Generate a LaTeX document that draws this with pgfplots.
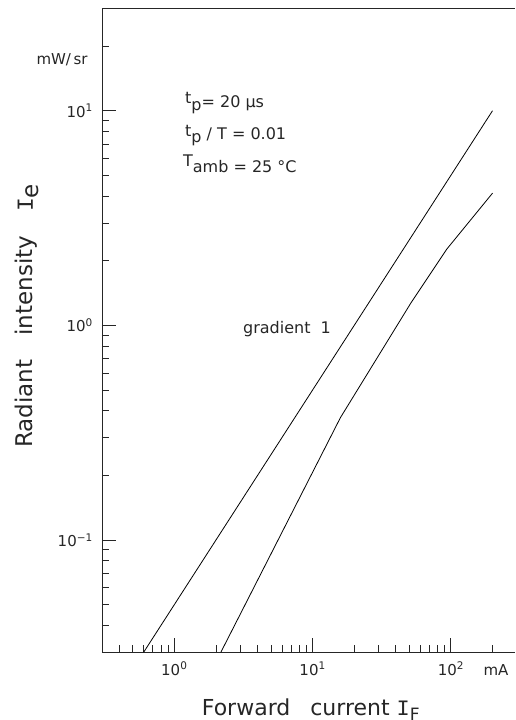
\documentclass[border=0pt]{standalone}
\usepackage{fontspec}
\setmainfont{DejaVu Sans}
\newfontfamily\monoI{Liberation Mono}
\usepackage{pgfplots}
\pgfplotsset{compat=1.18}
\begin{document}
\begin{tikzpicture}
\begin{axis}[
  at={(0,0)}, anchor=south west,
  scale only axis, width=413pt, height=644pt,
  xmode=log, ymode=log,
  xmin=0.3, xmax=290.8, ymin=0.03, ymax=30,
  axis x line=box, axis y line=left,
  axis line style={-, line width=0.9pt, black!85},
  xtick pos=left, ytick pos=left,
  tick align=inside,
  major tick length=14pt, minor tick length=7pt,
  every tick/.style={line width=0.8pt, black!85},
  xtick={1,10,100},
  xticklabels={10\textsuperscript{0},10\textsuperscript{1},10\textsuperscript{2}},
  minor xtick={0.4,0.5,0.6,0.7,0.8,0.9,2,3,4,5,6,7,8,9,20,30,40,50,60,70,80,90,200},
  ytick={0.1,1,10},
  yticklabels={10\textsuperscript{−1},10\textsuperscript{0},10\textsuperscript{1}},
  minor ytick={0.04,0.05,0.06,0.07,0.08,0.09,0.2,0.3,0.4,0.5,0.6,0.7,0.8,0.9,2,3,4,5,6,7,8,9,20},
  xticklabel style={font=\fontsize{15}{17}\selectfont, text=black!85, anchor=base, yshift=-22.7pt, inner sep=0pt},
  yticklabel style={font=\fontsize{15}{17}\selectfont, text=black!85, anchor=east, xshift=-9pt, inner sep=0pt},
  clip=false,
]
\addplot[black, line width=0.8pt] coordinates {(0.6,0.03) (200,10)};
\addplot[black, line width=0.8pt] coordinates {(2.17,0.03) (15.9,0.372) (51.7,1.28) (93.6,2.27) (200,4.13)};

\node[anchor=base west, font=\fontsize{16}{18}\selectfont, text=black!85, inner sep=0pt] at (axis description cs:0.201,0.8467)
  {\raisebox{3.5pt}{t}\raisebox{-3pt}{p}= 20 µs};
\node[anchor=base west, font=\fontsize{16}{18}\selectfont, text=black!85, inner sep=0pt] at (axis description cs:0.201,0.7955)
  {\raisebox{3.5pt}{t}\raisebox{-3pt}{p} / T = 0.01};
\node[anchor=base west, font=\fontsize{16}{18}\selectfont, text=black!85, inner sep=0pt] at (axis description cs:0.196,0.7458)
  {\raisebox{5.5pt}{T}amb = 25 °C};
\node[anchor=base west, font=\fontsize{16}{18}\selectfont, text=black!85, inner sep=0pt] at (axis description cs:0.3414,0.4953)
  {gradient\hspace{10pt}1};
\node[anchor=base east, font=\fontsize{15}{17}\selectfont, text=black!85, inner sep=0pt] at (axis description cs:-0.0346,0.912)
  {mW/\,sr};
\node[anchor=base, font=\fontsize{15}{17}\selectfont, text=black!85, inner sep=0pt] at (axis cs:212,0.03) [yshift=-22.7pt] {mA};
\node[rotate=90, anchor=base west, font=\fontsize{23}{25}\selectfont, text=black!85, inner sep=0pt] at (axis description cs:-0.1671,0.3172)
  {Radiant\hspace{24pt}intensity\hspace{24pt}{\monoI I}\raisebox{-6pt}{e}};
\node[anchor=base west, font=\fontsize{22}{24}\selectfont, text=black!85, inner sep=0pt] at (axis description cs:0.2414,-0.0974)
  {Forward\hspace{20pt}current {\monoI I}\raisebox{-5pt}{\fontsize{17}{17}\selectfont F}};
\end{axis}
\pgfresetboundingbox
\path (-102pt,-67.7pt) rectangle (413pt,652.3pt);
\end{tikzpicture}
\end{document}
